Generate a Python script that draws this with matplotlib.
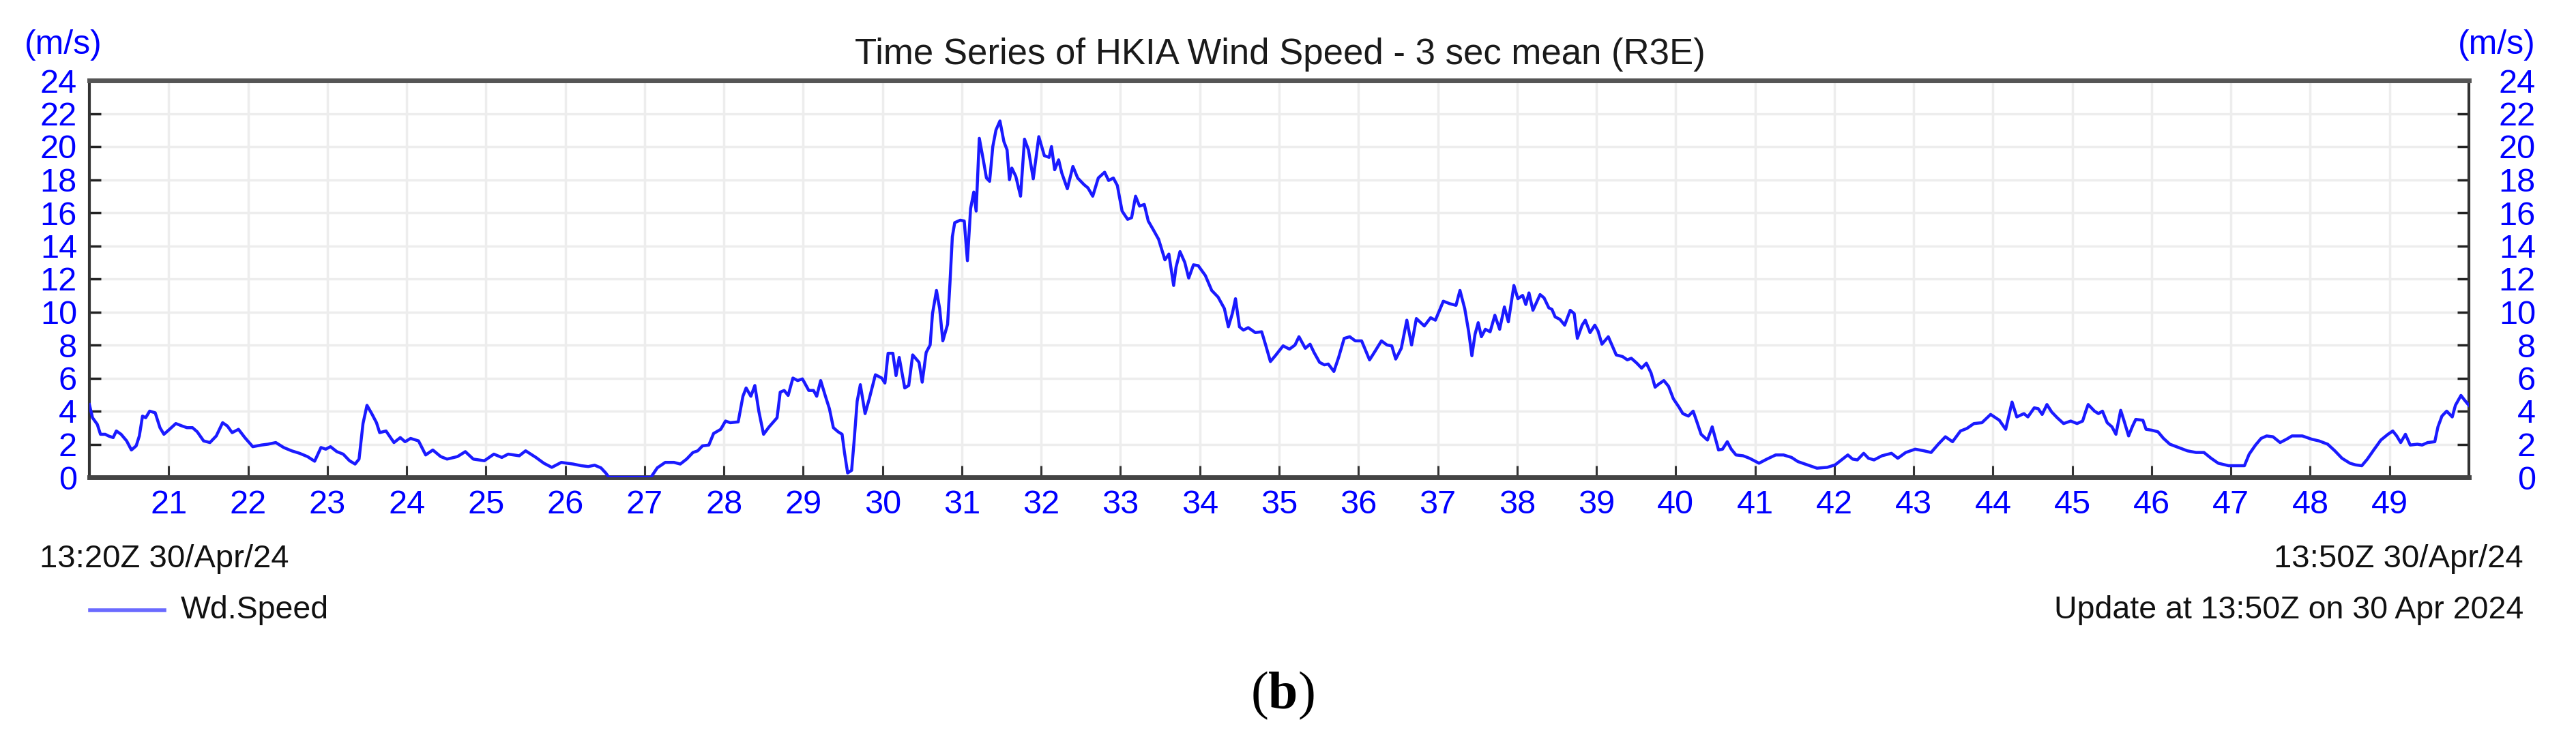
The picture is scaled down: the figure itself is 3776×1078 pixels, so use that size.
import matplotlib
matplotlib.use("Agg")
import matplotlib.pyplot as plt
from matplotlib.transforms import ScaledTranslation

plt.rcParams['font.family'] = ['Liberation Sans', 'DejaVu Sans']
plt.rcParams['mathtext.fontset'] = 'custom'
plt.rcParams['mathtext.rm'] = 'Liberation Serif'
plt.rcParams['mathtext.bf'] = 'Liberation Serif:bold'

# minutes past 13:00 (30 Apr 2024) and 3-sec mean wind speed (m/s)
t_early = [20.0, 20.04, 20.1, 20.14, 20.2, 20.24, 20.3, 20.34, 20.4, 20.47, 20.53, 20.59, 20.63, 20.67,
           20.71, 20.76, 20.83, 20.89, 20.94, 21.01, 21.09, 21.17, 21.23, 21.3, 21.36, 21.44, 21.52, 21.6,
           21.68, 21.74, 21.8, 21.88, 21.96, 22.06, 22.17, 22.25, 22.35, 22.45, 22.55, 22.65, 22.75, 22.84,
           22.92, 22.98, 23.04, 23.12, 23.2, 23.28, 23.35, 23.4, 23.45, 23.5, 23.56, 23.62, 23.66, 23.74,
           23.84, 23.92, 23.98, 24.05, 24.15, 24.24, 24.33, 24.43, 24.51, 24.64, 24.74, 24.84, 24.98, 25.1,
           25.2, 25.28, 25.42, 25.5, 25.63, 25.73, 25.83, 25.95]
v_early = [4.4, 3.6, 3.2, 2.6, 2.6, 2.5, 2.4, 2.8, 2.6, 2.2, 1.65, 1.9, 2.5, 3.7,
           3.6, 4.0, 3.9, 3.0, 2.6, 2.9, 3.25, 3.1, 3.0, 3.0, 2.75, 2.2, 2.1, 2.5,
           3.3, 3.1, 2.7, 2.9, 2.4, 1.85, 1.95, 2.0, 2.1, 1.8, 1.6, 1.45, 1.25, 0.97,
           1.8, 1.7, 1.85, 1.55, 1.4, 1.0, 0.8, 1.1, 3.25, 4.35, 3.85, 3.3, 2.7, 2.8,
           2.1, 2.4, 2.15, 2.35, 2.2, 1.35, 1.65, 1.25, 1.1, 1.25, 1.55, 1.1, 1.0, 1.4,
           1.2, 1.4, 1.3, 1.6, 1.2, 0.85, 0.6, 0.9]

t_rise = [26.02, 26.1, 26.2, 26.29, 26.37, 26.45, 26.51, 26.55, 26.84, 27.08, 27.16, 27.26, 27.37, 27.45,
          27.53, 27.61, 27.67, 27.73, 27.81, 27.87, 27.96, 28.02, 28.08, 28.18, 28.24, 28.28, 28.34, 28.39,
          28.44, 28.5, 28.57, 28.67, 28.71, 28.76, 28.81, 28.87, 28.93, 28.99, 29.07, 29.13, 29.17, 29.22,
          29.28, 29.33, 29.38, 29.44, 29.49, 29.52, 29.56, 29.61, 29.64, 29.68, 29.72, 29.78, 29.83, 29.91,
          29.99, 30.03, 30.07, 30.13, 30.17, 30.21, 30.28, 30.33, 30.38, 30.46, 30.5, 30.55, 30.6, 30.63,
          30.68, 30.72, 30.76, 30.82, 30.85, 30.88, 30.91, 30.98, 31.03, 31.07, 31.11, 31.15, 31.18, 31.22,
          31.27, 31.31, 31.35, 31.39, 31.43, 31.48, 31.53, 31.57, 31.6, 31.63, 31.68, 31.74, 31.79, 31.84,
          31.9, 31.97, 32.04, 32.1]
v_rise = [0.85, 0.8, 0.7, 0.65, 0.73, 0.57, 0.26, 0, 0, 0, 0.57, 0.9, 0.9, 0.8,
          1.1, 1.5, 1.6, 1.9, 1.95, 2.65, 2.9, 3.4, 3.3, 3.35, 4.9, 5.4, 4.9, 5.55,
          4.0, 2.6, 3.05, 3.6, 5.15, 5.25, 4.95, 6.0, 5.85, 5.95, 5.25, 5.25, 4.9, 5.85,
          4.9, 4.15, 3.0, 2.75, 2.6, 1.5, 0.26, 0.42, 2.1, 4.6, 5.6, 3.85, 4.7, 6.2,
          6.0, 5.7, 7.5, 7.5, 6.15, 7.25, 5.4, 5.55, 7.4, 6.95, 5.75, 7.55, 8.0, 9.9,
          11.3, 10.2, 8.25, 9.25, 11.75, 14.55, 15.4, 15.55, 15.5, 13.1, 16.25, 17.25, 16.1, 20.5,
          19.2, 18.1, 17.9, 20.0, 21.0, 21.55, 20.3, 19.8, 18.0, 18.7, 18.2, 17.0, 20.45, 19.8,
          18.05, 20.6, 19.45, 19.35]

t_mid = [32.13, 32.17, 32.22, 32.26, 32.33, 32.4, 32.46, 32.54, 32.59, 32.65, 32.72, 32.8, 32.85, 32.91,
         32.96, 33.02, 33.09, 33.14, 33.19, 33.24, 33.3, 33.35, 33.41, 33.48, 33.56, 33.61, 33.67, 33.7,
         33.75, 33.81, 33.86, 33.92, 33.98, 34.07, 34.15, 34.23, 34.31, 34.36, 34.41, 34.45, 34.5, 34.55,
         34.61, 34.7, 34.78, 34.83, 34.89, 34.96, 35.05, 35.13, 35.2, 35.25, 35.33, 35.39, 35.44, 35.51,
         35.57, 35.62, 35.69, 35.75, 35.82, 35.89, 35.96, 36.04, 36.14, 36.2, 36.29, 36.36, 36.42, 36.47,
         36.54, 36.61, 36.67, 36.73, 36.83, 36.91, 36.97, 37.07, 37.15, 37.23, 37.28, 37.34, 37.39, 37.43,
         37.47, 37.51, 37.55, 37.6, 37.66, 37.72, 37.78, 37.84, 37.89, 37.96, 38.01, 38.07, 38.11, 38.15,
         38.2]
v_mid = [20.0, 18.6, 19.2, 18.4, 17.45, 18.8, 18.1, 17.7, 17.5, 17.0, 18.1, 18.45, 17.95, 18.1,
         17.65, 16.1, 15.6, 15.7, 17.0, 16.4, 16.5, 15.5, 15.0, 14.4, 13.15, 13.5, 11.6, 12.7,
         13.65, 13.0, 12.05, 12.85, 12.8, 12.2, 11.3, 10.9, 10.2, 9.1, 9.9, 10.8, 9.1, 8.9,
         9.05, 8.75, 8.8, 8.0, 7.0, 7.4, 7.95, 7.75, 8.0, 8.5, 7.8, 8.05, 7.55, 6.95,
         6.8, 6.85, 6.4, 7.25, 8.4, 8.5, 8.25, 8.25, 7.1, 7.55, 8.25, 8.0, 7.95, 7.15,
         7.8, 9.5, 8.0, 9.6, 9.15, 9.65, 9.5, 10.65, 10.5, 10.4, 11.3, 10.2, 8.8, 7.35,
         8.65, 9.35, 8.5, 8.95, 8.8, 9.8, 8.95, 10.3, 9.4, 11.6, 10.8, 11.0, 10.45, 11.15,
         10.1]

t_fall = [38.29, 38.34, 38.4, 38.44, 38.48, 38.54, 38.6, 38.67, 38.72, 38.76, 38.82, 38.86, 38.92, 38.98,
          39.02, 39.07, 39.15, 39.2, 39.25, 39.33, 39.39, 39.44, 39.51, 39.57, 39.63, 39.69, 39.74, 39.79,
          39.85, 39.91, 39.97, 40.04, 40.09, 40.16, 40.22, 40.26, 40.32, 40.4, 40.46, 40.5, 40.54, 40.59,
          40.65, 40.7, 40.76, 40.85, 40.93, 41.05, 41.15, 41.26, 41.36, 41.46, 41.54, 41.66, 41.78, 41.91,
          42.01, 42.09, 42.17, 42.23, 42.29, 42.37, 42.43, 42.5, 42.6, 42.72, 42.8, 42.9, 43.02, 43.13,
          43.22, 43.31, 43.4, 43.49, 43.59, 43.67, 43.76, 43.86, 43.97, 44.08, 44.16, 44.24, 44.3]
v_fall = [11.05, 10.85, 10.25, 10.15, 9.7, 9.55, 9.2, 10.1, 9.9, 8.4, 9.2, 9.5, 8.75, 9.2,
          8.85, 8.05, 8.5, 7.95, 7.4, 7.3, 7.1, 7.2, 6.9, 6.6, 6.9, 6.3, 5.45, 5.65,
          5.85, 5.5, 4.75, 4.25, 3.85, 3.7, 4.0, 3.45, 2.6, 2.25, 3.05, 2.35, 1.65, 1.7,
          2.15, 1.7, 1.35, 1.3, 1.15, 0.85, 1.1, 1.35, 1.35, 1.2, 0.95, 0.75, 0.55, 0.6,
          0.75, 1.05, 1.35, 1.1, 1.05, 1.45, 1.15, 1.05, 1.3, 1.45, 1.15, 1.5, 1.7, 1.6,
          1.5, 2.0, 2.45, 2.15, 2.8, 2.95, 3.25, 3.3, 3.8, 3.45, 2.9, 4.55, 3.65]

t_late = [44.39, 44.44, 44.52, 44.57, 44.62, 44.68, 44.74, 44.81, 44.89, 44.98, 45.06, 45.13, 45.17, 45.2,
          45.28, 45.33, 45.38, 45.44, 45.5, 45.55, 45.61, 45.65, 45.71, 45.76, 45.8, 45.89, 45.93, 46.0,
          46.08, 46.15, 46.23, 46.34, 46.45, 46.56, 46.66, 46.75, 46.84, 46.97, 47.08, 47.17, 47.23, 47.31,
          47.38, 47.45, 47.53, 47.62, 47.7, 47.77, 47.9, 48.02, 48.11, 48.22, 48.31, 48.4, 48.5, 48.57,
          48.65, 48.72, 48.8, 48.89, 48.98, 49.04, 49.09, 49.14, 49.2, 49.26, 49.35, 49.41, 49.48, 49.57,
          49.61, 49.66, 49.72, 49.79, 49.83, 49.9, 49.94, 50.0]
v_late = [3.85, 3.65, 4.2, 4.15, 3.8, 4.4, 3.95, 3.6, 3.25, 3.4, 3.25, 3.4, 4.0, 4.4,
          4.0, 3.85, 4.0, 3.3, 3.05, 2.6, 4.05, 3.45, 2.5, 3.1, 3.5, 3.45, 2.9, 2.85,
          2.75, 2.35, 2.0, 1.8, 1.6, 1.5, 1.5, 1.15, 0.85, 0.7, 0.7, 0.7, 1.4, 1.95,
          2.35, 2.5, 2.45, 2.1, 2.3, 2.5, 2.5, 2.3, 2.2, 2.0, 1.6, 1.15, 0.85, 0.75,
          0.7, 1.1, 1.65, 2.25, 2.6, 2.8, 2.5, 2.1, 2.6, 1.95, 2.0, 1.95, 2.1, 2.15,
          3.05, 3.7, 4.0, 3.65, 4.35, 4.95, 4.7, 4.35]

minutes = t_early + t_rise + t_mid + t_fall + t_late
speed = v_early + v_rise + v_mid + v_fall + v_late

x_ticks = list(range(21, 50))
y_ticks = list(range(0, 25, 2))

W, H = 3776, 1078
fig = plt.figure(figsize=(W / 100, H / 100), dpi=100)
ax = fig.add_axes([131 / W, 1 - 700 / H, (3619 - 131) / W, (700 - 118) / H])

blue = '#1a1aff'
ax.plot(minutes, speed, color=blue, lw=3.2, zorder=3)

ax.set_xlim(20, 50)
ax.set_ylim(0, 24)
ax.set_xticks(x_ticks)
ax.set_xticklabels([str(m) for m in x_ticks])
ax.set_yticks(y_ticks)
ax.grid(True, color='#ededed', lw=2.5, zorder=0)

for s in ax.spines.values():
    s.set_color('#333333')
    s.set_linewidth(3)
ax.spines['top'].set_linewidth(5)
ax.spines['top'].set_color('#555555')
ax.spines['bottom'].set_linewidth(5)
ax.spines['bottom'].set_color('#444444')

ax.tick_params(axis='x', direction='in', length=12, width=2.2, color='#333333',
               labelsize=35, labelcolor='#0000ff', pad=13)
ax.tick_params(axis='y', direction='in', length=12, width=2.5, color='#222222',
               labelsize=35, labelcolor='#0000ff', pad=13, right=True, labelright=True)

# right-hand labels are right-aligned in the original
shift = ScaledTranslation(98 / 100, 0, fig.dpi_scale_trans)
for tk in ax.yaxis.get_major_ticks():
    tk.label2.set_horizontalalignment('right')
    tk.label2.set_transform(ax.get_yaxis_transform() + shift)

fig.text(93 / W, 1 - 66 / H, '(m/s)', color='#0000ff', fontsize=36, ha='center', va='center')
fig.text(3660 / W, 1 - 66 / H, '(m/s)', color='#0000ff', fontsize=36, ha='center', va='center')
fig.text(1876 / W, 1 - 80 / H, 'Time Series of HKIA Wind Speed - 3 sec mean (R3E)',
         color='#1a1a1a', fontsize=38, ha='center', va='center')

fig.text(58 / W, 1 - 820 / H, '13:20Z 30/Apr/24', color='#111111', fontsize=34, ha='left', va='center')
fig.text(3699 / W, 1 - 820 / H, '13:50Z 30/Apr/24', color='#111111', fontsize=34, ha='right', va='center')
fig.text(3699 / W, 1 - 895 / H, 'Update at 13:50Z on 30 Apr 2024', color='#111111', fontsize=33.5,
         ha='right', va='center')
fig.add_artist(plt.Line2D([132 / W, 241 / W], [1 - 895 / H, 1 - 895 / H], color='#6a6aff', lw=4))
fig.text(265 / W, 1 - 895 / H, 'Wd.Speed', color='#111111', fontsize=33.5, ha='left', va='center')

fig.text(1880 / W, 1 - 1020 / H, r'($\mathbf{b}$)', color='black', fontsize=56,
         family='Liberation Serif', ha='center', va='center')

fig.savefig('out.png', dpi=100, facecolor='white')
